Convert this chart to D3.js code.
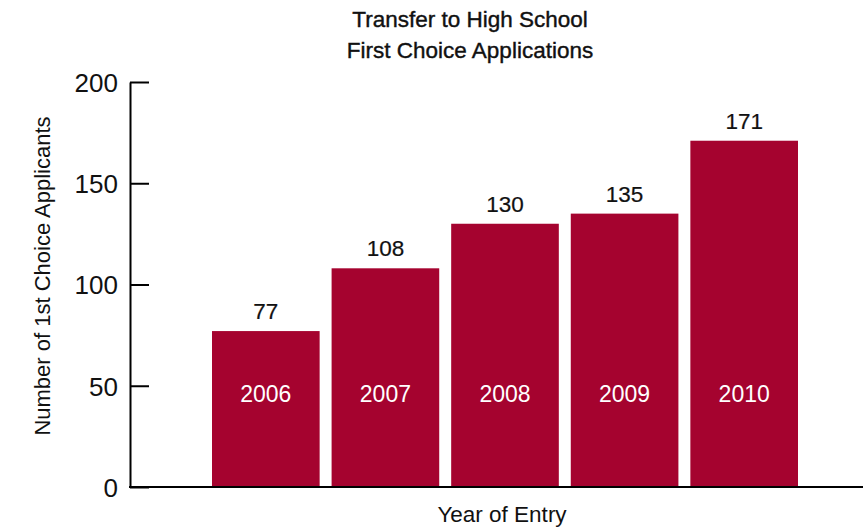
<!DOCTYPE html>
<html>
<head>
<meta charset="utf-8">
<script src="https://cdn.jsdelivr.net/npm/d3@7"></script>
<style>
  html, body { margin: 0; padding: 0; background: #fff; }
  svg { display: block; font-family: "Liberation Sans", Arial, Helvetica, sans-serif; }
</style>
</head>
<body>
<svg id="chart" width="863" height="532"></svg>
<script>
// Applicants naming the school as first choice, by year of entry
const years = ["2006", "2007", "2008", "2009", "2010"];
const applicants = [77, 108, 130, 135, 171];
const yTicks = [0, 50, 100, 150, 200];
const titleLines = ["Transfer to High School", "First Choice Applications"];

const svg = d3.select("#chart");
const barColor = "#a5032f";

const x = d3.scaleBand().domain(years).range([212, 798]).paddingInner(0.1).paddingOuter(0);
const y = d3.scaleLinear().domain([0, 200]).range([487, 82]);

// Title
svg.append("g").selectAll("text").data(titleLines).join("text")
  .attr("x", 470).attr("y", (d, i) => 27 + i * 31)
  .attr("text-anchor", "middle")
  .attr("font-size", 22.5).attr("fill", "#111")
  .attr("stroke", "#111").attr("stroke-width", 0.4)
  .text(d => d);

// Bars
const bars = svg.append("g");
bars.selectAll("rect").data(years).join("rect")
  .attr("x", d => x(d))
  .attr("y", (d, i) => y(applicants[i]))
  .attr("width", x.bandwidth())
  .attr("height", (d, i) => y(0) - y(applicants[i]))
  .attr("fill", barColor);

// Value labels above bars
bars.selectAll("text.value").data(years).join("text")
  .attr("class", "value")
  .attr("x", d => x(d) + x.bandwidth() / 2)
  .attr("y", (d, i) => y(applicants[i]) - 12)
  .attr("text-anchor", "middle")
  .attr("font-size", 22.5).attr("fill", "#111")
  .attr("stroke", "#111").attr("stroke-width", 0.2)
  .text((d, i) => applicants[i]);

// Year labels inside bars
bars.selectAll("text.year").data(years).join("text")
  .attr("class", "year")
  .attr("x", d => x(d) + x.bandwidth() / 2)
  .attr("y", 402)
  .attr("text-anchor", "middle")
  .attr("font-size", 23).attr("fill", "#fff")
  .text(d => d);

// Y axis with inward ticks
const yAxis = svg.append("g")
  .attr("transform", "translate(130,0)")
  .call(d3.axisRight(y).tickValues(yTicks).tickSize(19).tickSizeOuter(0).tickFormat(d3.format("d")));
yAxis.select(".domain").attr("stroke", "#000").attr("stroke-width", 2);
yAxis.selectAll(".tick line").attr("stroke", "#000").attr("stroke-width", 2);
yAxis.selectAll(".tick text")
  .attr("x", -12).attr("dy", "0.36em")
  .attr("text-anchor", "end")
  .attr("font-size", 26).attr("fill", "#111");

// Baseline
svg.append("line")
  .attr("x1", 129).attr("x2", 863)
  .attr("y1", y(0)).attr("y2", y(0))
  .attr("stroke", "#000").attr("stroke-width", 2);

// Axis titles
svg.append("text")
  .attr("transform", "translate(50,276) rotate(-90)")
  .attr("text-anchor", "middle")
  .attr("font-size", 22).attr("fill", "#111")
  .text("Number of 1st Choice Applicants");

svg.append("text")
  .attr("x", 502).attr("y", 522)
  .attr("text-anchor", "middle")
  .attr("font-size", 22.5).attr("fill", "#111")
  .text("Year of Entry");
</script>
</body>
</html>
